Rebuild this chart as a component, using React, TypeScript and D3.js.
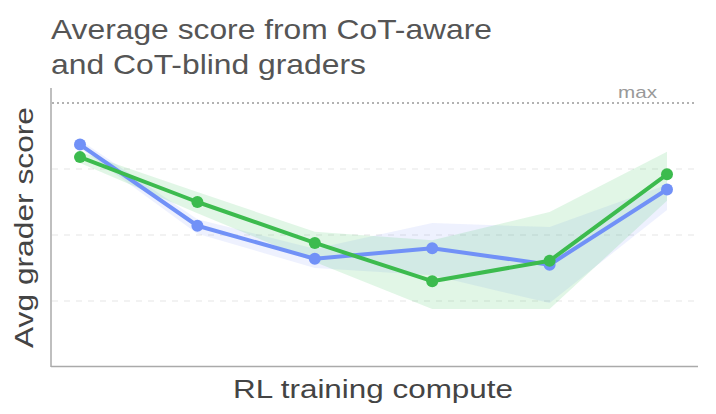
import React from 'react';
import * as d3 from 'd3';

const STEPS = [0, 1, 2, 3, 4, 5];
const BLIND_MEAN = [3.37, 2.14, 1.64, 1.8, 1.55, 2.69];
const BLIND_LOW = [3.32, 2.02, 1.5, 1.39, 0.97, 2.38];
const BLIND_HIGH = [3.44, 2.24, 1.79, 2.18, 2.12, 2.76];
const AWARE_MEAN = [3.18, 2.5, 1.88, 1.3, 1.61, 2.92];
const AWARE_LOW = [3.09, 2.33, 1.59, 0.88, 0.88, 2.52];
const AWARE_HIGH = [3.26, 2.65, 2.05, 1.92, 2.35, 3.26];
const GRID_VALUES = [1, 2, 3];
const MAX_VALUE = 4;
const TITLE_LINES = ['Average score from CoT-aware', 'and CoT-blind graders'];

const W = 716;
const H = 414;
const BLUE = '#7191f7';
const GREEN = '#3cbb4e';

const x = d3.scaleLinear().domain([0, 5]).range([80, 667]);
const y = d3.scaleLinear().domain([0, MAX_VALUE]).range([367, 103]);

const line = d3
    .line<number>()
    .x((_, i) => x(STEPS[i]))
    .y(d => y(d));

const band = (lo: number[], hi: number[]) =>
    d3
        .area<number>()
        .x((_, i) => x(STEPS[i]))
        .y0((_, i) => y(lo[i]))
        .y1((_, i) => y(hi[i]))(STEPS) || '';

const Series = ({ mean, color }: { mean: number[]; color: string }) => (
    <g>
        <path d={line(mean) || ''} fill='none' stroke={color} strokeWidth={4} strokeLinejoin='round' />
        {mean.map((v, i) => (
            <circle key={i} cx={x(STEPS[i])} cy={y(v)} r={6} fill={color} />
        ))}
    </g>
);

const App = () => {
    const font = "'Liberation Sans', Arial, Helvetica, sans-serif";
    return (
        <svg width={W} height={H} style={{ position: 'absolute', left: 0, top: 0, background: '#fff' }}>
            {/* title */}
            {TITLE_LINES.map((t, i) => (
                <text
                    key={t}
                    x={51}
                    y={38.5 + i * 35}
                    fontFamily={font}
                    fontSize={28}
                    fill='#555'
                    textLength={i === 0 ? 441 : 315}
                    lengthAdjust='spacingAndGlyphs'
                >
                    {t}
                </text>
            ))}

            {/* grid */}
            {GRID_VALUES.map(g => (
                <line key={g} x1={52} x2={697} y1={y(g)} y2={y(g)} stroke='#eee' strokeWidth={1.5} strokeDasharray='6,6' />
            ))}
            <line x1={52} x2={697} y1={y(MAX_VALUE)} y2={y(MAX_VALUE)} stroke='#999' strokeWidth={1.5} strokeDasharray='2,3' />
            <text x={618} y={98} fontFamily={font} fontSize={17} fill='#999' textLength={39} lengthAdjust='spacingAndGlyphs'>
                max
            </text>

            {/* bands */}
            <path d={band(BLIND_LOW, BLIND_HIGH)} fill='rgb(120,150,245)' fillOpacity={0.13} />
            <path d={band(AWARE_LOW, AWARE_HIGH)} fill='rgb(70,200,100)' fillOpacity={0.16} />

            <Series mean={BLIND_MEAN} color={BLUE} />
            <Series mean={AWARE_MEAN} color={GREEN} />

            {/* axes */}
            <line x1={51} x2={51} y1={88} y2={367} stroke='#aaa' strokeWidth={1.5} />
            <line x1={51} x2={698} y1={366.5} y2={366.5} stroke='#aaa' strokeWidth={1.5} />

            <text
                x={233}
                y={397.5}
                fontFamily={font}
                fontSize={26}
                fill='#444'
                textLength={280}
                lengthAdjust='spacingAndGlyphs'
            >
                RL training compute
            </text>
            <text
                transform={`translate(33,${227.5}) rotate(-90)`}
                textAnchor='middle'
                fontFamily={font}
                fontSize={26}
                fill='#444'
                textLength={241}
                lengthAdjust='spacingAndGlyphs'
            >
                Avg grader score
            </text>
        </svg>
    );
};

export default App;
